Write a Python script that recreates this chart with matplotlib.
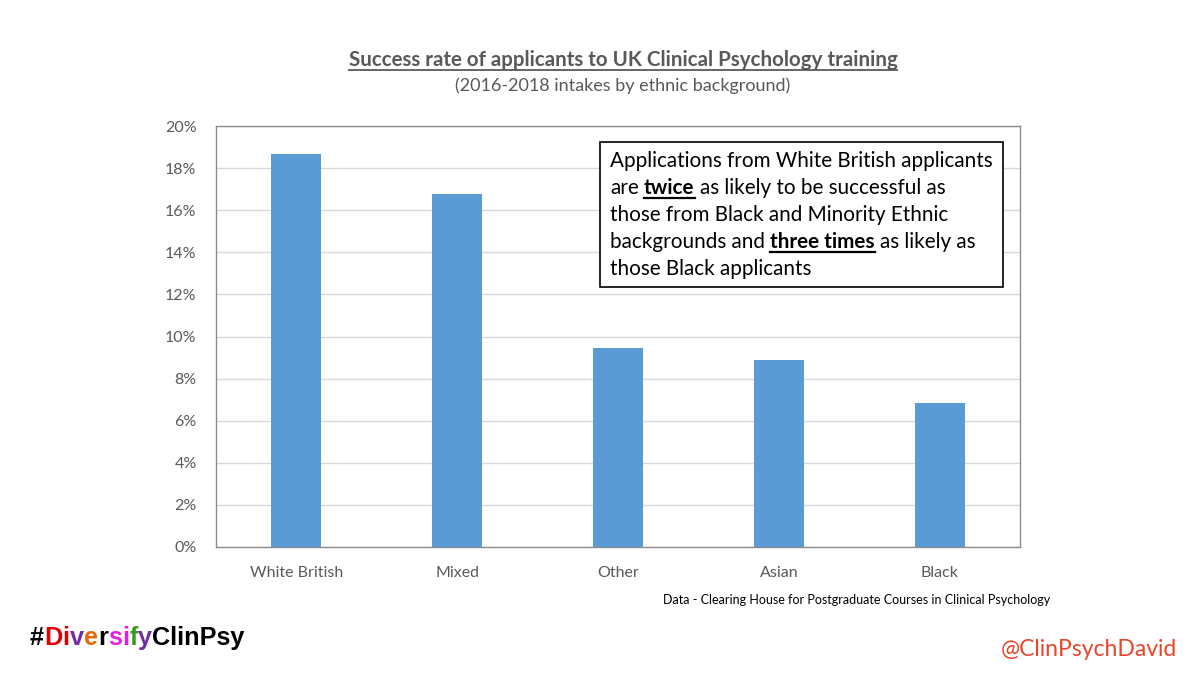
import matplotlib
matplotlib.use("Agg")
import matplotlib.pyplot as plt
from matplotlib.patches import Rectangle
from matplotlib.lines import Line2D
from matplotlib.ticker import PercentFormatter

categories = ["White British", "Mixed", "Other", "Asian", "Black"]
success_rate = [18.65, 16.77, 9.47, 8.88, 6.86]
yticks = [0, 2, 4, 6, 8, 10, 12, 14, 16, 18, 20]

W, H = 1200, 675
fig = plt.figure(figsize=(12, 6.75), dpi=100)
fig.patch.set_facecolor("white")
FONT = "Lato"

def fx(x):
    return x / W

def fy(y):
    return 1 - y / H

ax = fig.add_axes([fx(216), fy(547), fx(1020) - fx(216), fy(126) - fy(547)])
x = list(range(len(categories)))
ax.bar(x, success_rate, width=0.31, color="#5B9BD5", zorder=3)
ax.set_xlim(-0.5, 4.5)
ax.set_ylim(0, 20)
ax.set_yticks(yticks)
ax.yaxis.set_major_formatter(PercentFormatter(decimals=0))
ax.set_xticks(x)
ax.set_xticklabels(categories)
ax.grid(axis="y", color="#D9D9D9", lw=1, zorder=0)
for s in ax.spines.values():
    s.set_color("#8C8C8C")
    s.set_linewidth(1)
ax.tick_params(length=0, labelsize=11.5, labelcolor="#595959", pad=14)
ax.tick_params(axis="x", pad=14)
for lab in ax.get_xticklabels() + ax.get_yticklabels():
    lab.set_fontfamily(FONT)

renderer = fig.canvas.get_renderer()

def width_of(t):
    return t.get_window_extent(renderer).width

def space_width(size, weight):
    a = fig.text(0, 0, "x x", fontsize=size, fontweight=weight, family=FONT)
    b = fig.text(0, 0, "xx", fontsize=size, fontweight=weight, family=FONT)
    w = width_of(a) - width_of(b)
    a.remove(); b.remove()
    return w

def draw_line(x0, ybase, segments, size, color="black", ul_off=4, ul_lw=1.6):
    """segments: list of (text, bold, underline, space_after)"""
    cx = x0
    sw = space_width(size, "normal")
    for text, bold, ul, sp in segments:
        t = fig.text(fx(cx), fy(ybase), text, fontsize=size,
                     fontweight="bold" if bold else "normal", family=FONT,
                     color=color, ha="left", va="baseline", zorder=10)
        w = width_of(t)
        if ul:
            fig.add_artist(Line2D([fx(cx), fx(cx + w)], [fy(ybase + ul_off)] * 2,
                                  color=color, lw=ul_lw, transform=fig.transFigure,
                                  zorder=10))
        cx += w + (sw if sp else 0)
    return cx

# Title (bold, underlined), centered
title = "Success rate of applicants to UK Clinical Psychology training"
tt = fig.text(fx(623), fy(66), title, fontsize=14.75, fontweight="bold", family=FONT,
              color="#595959", ha="center", va="baseline")
bb = tt.get_window_extent(renderer)
fig.add_artist(Line2D([bb.x0 / W, bb.x1 / W], [fy(70)] * 2, color="#595959", lw=1.3,
                      transform=fig.transFigure))
fig.text(fx(623), fy(91), "(2016-2018 intakes by ethnic background)", fontsize=13,
         family=FONT, color="#595959", ha="center", va="baseline")

# Annotation box
fig.add_artist(Rectangle((fx(600), fy(287)), fx(1003) - fx(600), fy(142) - fy(287),
                         transform=fig.transFigure, fill=True, facecolor="white",
                         edgecolor="black", lw=1.2, zorder=5))
lx = 610
size = 14.9
lines = [
    [("Applications from White British applicants", False, False, False)],
    [("are", False, False, True), ("twice", True, True, True),
     ("as likely to be successful as", False, False, False)],
    [("those from Black and Minority Ethnic", False, False, False)],
    [("backgrounds and", False, False, True), ("three times", True, True, True),
     ("as likely as", False, False, False)],
    [("those Black applicants", False, False, False)],
]
for i, segs in enumerate(lines):
    draw_line(lx, 167 + 27 * i, segs, size)

# Source note
fig.text(fx(1050), fy(604), "Data - Clearing House for Postgraduate Courses in Clinical Psychology",
         fontsize=9, family=FONT, color="black", ha="right", va="baseline")

# Hashtag with coloured letters
hash_segs = [("#", "black"), ("D", "#E00000"), ("i", "#E00000"), ("v", "#7030A0"),
             ("e", "#E36C09"), ("r", "black"), ("s", "#E020E0"), ("i", "#E020E0"),
             ("f", "#3A9A20"), ("y", "#7030A0"), ("ClinPsy", "black")]
cx = 30
for txt, col in hash_segs:
    t = fig.text(fx(cx), fy(645), txt, fontsize=18.2, fontweight="bold",
                 family="Liberation Sans", color=col, ha="left", va="baseline")
    cx += width_of(t) + 0.2

fig.text(fx(1177), fy(656), "@ClinPsychDavid", fontsize=16.5, family=FONT,
         color="#E8462A", ha="right", va="baseline")

fig.savefig("out.png", dpi=100)
